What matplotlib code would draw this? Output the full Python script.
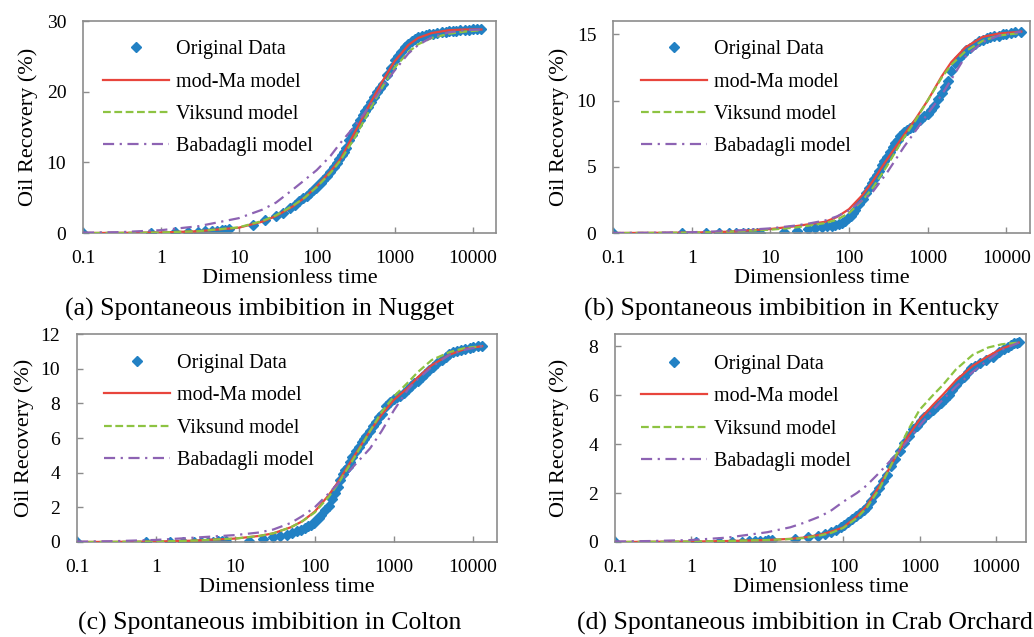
import numpy as np
import matplotlib
matplotlib.use("Agg")
import matplotlib.pyplot as plt
from matplotlib.ticker import NullLocator

plt.rcParams['font.family'] = ['Liberation Serif', 'DejaVu Serif']

# ---- data ----
# original data, panels (a)-(c) share the same time samples
t_obs = [0.1, 0.75, 1.5, 2.2, 3.0, 3.7, 4.5, 5.2, 6.0, 6.7, 7.5, 15, 22, 30, 37, 45, 52, 60, 67, 75,
         82, 90, 97, 105, 112, 120, 135, 150, 165, 180, 195, 210, 225, 240, 260, 280, 300, 330, 360, 390,
         420, 450, 500, 550, 600, 650, 700, 800, 900, 1000, 1100, 1200, 1350, 1500, 1650, 1800, 2000, 2250, 2500, 2800,
         3100, 3500, 4000, 4500, 5000, 5600, 6200, 7000, 8000, 9000, 10000, 11500, 13000]

nugget_obs = [0, 0.05, 0.1, 0.15, 0.2, 0.25, 0.3, 0.35, 0.4, 0.45, 0.55, 1.2, 1.8, 2.4, 2.9, 3.5, 4.0, 4.5, 4.9, 5.3,
              5.7, 6.1, 6.4, 6.8, 7.1, 7.5, 8.1, 8.7, 9.3, 9.9, 10.5, 11.0, 11.5, 12.0, 13.2, 13.9, 14.5, 15.3, 16.0, 16.7,
              17.3, 17.8, 18.6, 19.3, 19.9, 20.5, 21.1, 22.4, 23.3, 24.5, 25.1, 25.6, 26.3, 26.8, 27.1, 27.4, 27.7, 27.9, 28.0, 28.1,
              28.2, 28.3, 28.4, 28.5, 28.55, 28.6, 28.65, 28.7, 28.7, 28.75, 28.8, 28.8, 28.8]

kentucky_obs = [0, 0, 0, 0, 0, 0, 0, 0, 0.01, 0.02, 0.03, 0.1, 0.17, 0.28, 0.35, 0.45, 0.5, 0.55, 0.62, 0.68,
                0.75, 0.9, 1.1, 1.3, 1.5, 1.7, 2.2, 2.6, 3.0, 3.4, 3.8, 4.1, 4.4, 4.7, 5.1, 5.4, 5.7, 6.1, 6.5, 6.8,
                7.0, 7.3, 7.6, 7.8, 7.9, 8.0, 8.2, 8.5, 8.8, 9.0, 9.3, 9.6, 10.1, 10.6, 11.0, 11.5, 12.2, 12.8, 13.2, 13.5,
                13.8, 14.0, 14.3, 14.5, 14.6, 14.7, 14.8, 14.85, 14.9, 15.0, 15.05, 15.1, 15.15]

colton_obs = [0, 0, 0, 0, 0, 0.01, 0.01, 0.02, 0.03, 0.04, 0.05, 0.08, 0.16, 0.26, 0.34, 0.43, 0.52, 0.62, 0.72, 0.82,
              0.92, 1.0, 1.1, 1.25, 1.4, 1.55, 1.85, 2.1, 2.5, 2.85, 3.2, 3.6, 3.95, 4.15, 4.35, 4.6, 4.9, 5.25, 5.5, 5.75,
              5.95, 6.1, 6.4, 6.7, 6.95, 7.2, 7.4, 7.85, 8.1, 8.25, 8.35, 8.45, 8.6, 8.8, 9.0, 9.15, 9.3, 9.5, 9.7, 9.9,
              10.1, 10.3, 10.5, 10.7, 10.85, 10.95, 11.0, 11.1, 11.15, 11.2, 11.25, 11.3, 11.3]

t_obs_d = [0.1, 1.15, 2.3, 3.45, 4.6, 5.75, 6.9, 8.0, 9.2, 10.3, 11.5, 23, 34, 46, 57, 69, 80, 92, 103, 115,
           130, 145, 165, 185, 205, 230, 260, 290, 330, 370, 420, 480, 550, 630, 720, 820, 920, 1040, 1150, 1300,
           1500, 1700, 1900, 2150, 2400, 2700, 3000, 3400, 3800, 4300, 4800, 5400, 6200, 7500, 9200, 11200, 13000, 14500, 16000, 17500,
           19000, 20000]
crab_obs = [0, 0, 0, 0.01, 0.02, 0.03, 0.04, 0.05, 0.06, 0.07, 0.08, 0.14, 0.19, 0.25, 0.33, 0.41, 0.5, 0.6, 0.7, 0.8,
            0.92, 1.05, 1.18, 1.3, 1.45, 1.66, 1.95, 2.2, 2.5, 2.75, 3.1, 3.4, 3.7, 4.03, 4.35, 4.6, 4.75, 4.95, 5.1, 5.25,
            5.4, 5.55, 5.7, 5.85, 6.0, 6.2, 6.4, 6.6, 6.75, 6.95, 7.1, 7.2, 7.3, 7.43, 7.57, 7.77, 7.9, 7.98, 8.05, 8.12,
            8.15, 8.17]

# model curves
t_mod = [0.1, 0.3, 1, 3, 10, 20, 30, 50, 70, 100, 150, 200, 300, 400, 500, 700, 1000, 1500, 2000, 3000, 5000, 8000, 13000]
nugget_ma = [0, 0.02, 0.08, 0.25, 0.75, 1.6, 2.4, 3.8, 5.0, 6.6, 8.7, 10.4, 14.0, 16.6, 18.6, 21.5, 24.3, 26.6, 27.6, 28.3, 28.7, 28.8, 28.8]
nugget_vik = [0, 0.02, 0.08, 0.25, 0.8, 1.7, 2.5, 3.9, 5.0, 6.5, 8.5, 10.2, 13.3, 15.8, 17.8, 20.7, 23.4, 25.6, 26.7, 27.6, 28.2, 28.5, 28.7]
nugget_bab = [0.05, 0.12, 0.4, 0.95, 2.1, 3.3, 4.3, 6.2, 7.5, 8.9, 10.9, 12.7, 15.0, 16.8, 18.3, 20.7, 23.0, 25.4, 26.6, 27.7, 28.4, 28.7, 28.8]

t_mod_b = [0.1, 0.3, 1, 3, 10, 20, 30, 50, 70, 100, 150, 200, 300, 500, 700, 1000, 1500, 2000, 3000, 5000, 8000, 15500]
kentucky_ma = [0, 0.01, 0.03, 0.1, 0.3, 0.5, 0.65, 0.85, 1.2, 1.8, 2.9, 3.9, 5.5, 7.4, 8.6, 10.0, 11.8, 12.9, 14.0, 14.8, 15.05, 15.2]
kentucky_vik = [0, 0.01, 0.03, 0.1, 0.25, 0.4, 0.55, 0.75, 1.0, 1.5, 2.5, 3.4, 5.0, 7.2, 8.5, 10.0, 11.7, 12.7, 13.7, 14.5, 14.9, 15.1]
kentucky_bab = [0, 0.02, 0.06, 0.15, 0.35, 0.55, 0.7, 0.95, 1.25, 1.7, 2.5, 3.1, 4.5, 6.5, 7.7, 9.0, 10.4, 11.6, 13.3, 14.4, 14.9, 15.2]

t_mod_c = [0.1, 0.3, 1, 3, 10, 20, 30, 50, 70, 100, 150, 200, 300, 500, 700, 1000, 1500, 2000, 3000, 5000, 8000, 13000]
colton_ma = [0, 0.01, 0.03, 0.08, 0.2, 0.35, 0.5, 0.85, 1.2, 1.75, 2.7, 3.5, 4.8, 6.4, 7.35, 8.2, 8.9, 9.5, 10.2, 10.8, 11.15, 11.3]
colton_vik = [0, 0.01, 0.03, 0.08, 0.2, 0.35, 0.5, 0.85, 1.2, 1.7, 2.6, 3.4, 4.7, 6.4, 7.5, 8.4, 9.2, 9.8, 10.5, 10.95, 11.2, 11.3]
colton_bab = [0.02, 0.05, 0.12, 0.25, 0.4, 0.55, 0.72, 1.1, 1.5, 2.0, 2.8, 3.4, 4.3, 5.4, 6.4, 7.6, 8.8, 9.4, 10.1, 10.8, 11.1, 11.3]

t_mod_d = [0.1, 0.3, 1, 3, 10, 20, 30, 50, 70, 100, 150, 200, 300, 500, 700, 1000, 1500, 2000, 3000, 5000, 8000, 12000, 20000]
crab_ma = [0, 0.01, 0.02, 0.04, 0.08, 0.13, 0.18, 0.3, 0.43, 0.6, 1.05, 1.45, 2.3, 3.55, 4.3, 5.0, 5.6, 6.0, 6.6, 7.2, 7.6, 7.9, 8.15]
crab_vik = [0, 0.01, 0.02, 0.04, 0.08, 0.12, 0.16, 0.27, 0.38, 0.58, 0.98, 1.38, 2.2, 3.6, 4.55, 5.4, 6.0, 6.4, 7.05, 7.65, 7.95, 8.08, 8.15]
crab_bab = [0.02, 0.04, 0.08, 0.18, 0.4, 0.6, 0.78, 1.05, 1.3, 1.65, 2.0, 2.3, 2.85, 3.6, 4.15, 4.75, 5.4, 5.8, 6.35, 6.95, 7.45, 7.85, 8.15]

captions = ["(a) Spontaneous imbibition in Nugget", "(b) Spontaneous imbibition in Kentucky",
            "(c) Spontaneous imbibition in Colton", "(d) Spontaneous imbibition in Crab Orchard"]
xticks = [0.1, 1, 10, 100, 1000, 10000]
xtick_labels = ["0.1", "1", "10", "100", "1000", "10000"]

blue = '#2281C4'
red = '#E8453C'
green = '#8DC342'
purple = '#8D63B3'
frame = '#8C8C8C'

W, H = 1034, 637
fig = plt.figure(figsize=(W / 100, H / 100), dpi=100)


def box(l, t, r, b):
    return [l / W, 1 - b / H, (r - l) / W, (b - t) / H]


panels = [
    dict(rect=box(83, 21, 496, 233), xmax=20000, ymax=30, yticks=[0, 10, 20, 30],
         t=t_obs, y=nugget_obs, tm=t_mod, ma=nugget_ma, vik=nugget_vik, bab=nugget_bab,
         lab=-0.109, leg=(0.048, 0.91), cap=(260, 309)),
    dict(rect=box(613, 21, 1030, 233), xmax=20000, ymax=16, yticks=[0, 5, 10, 15],
         t=t_obs + [15500], y=kentucky_obs + [15.2], tm=t_mod_b, ma=kentucky_ma, vik=kentucky_vik, bab=kentucky_bab,
         lab=-0.105, leg=(0.067, 0.91), cap=(791, 309)),
    dict(rect=box(77, 334, 497, 542), xmax=20000, ymax=12, yticks=[0, 2, 4, 6, 8, 10, 12],
         t=t_obs, y=colton_obs, tm=t_mod_c, ma=colton_ma, vik=colton_vik, bab=colton_bab,
         lab=-0.102, leg=(0.064, 0.905), cap=(270, 623)),
    dict(rect=box(615, 334, 1026, 542), xmax=25000, ymax=8.5, yticks=[0, 2, 4, 6, 8],
         t=t_obs_d, y=crab_obs, tm=t_mod_d, ma=crab_ma, vik=crab_vik, bab=crab_bab,
         lab=-0.112, leg=(0.063, 0.9), cap=(805, 623)),
]

for p, cap in zip(panels, captions):
    ax = fig.add_axes(p['rect'])
    h0, = ax.plot(p['t'], p['y'], linestyle='none', marker='D', markersize=5,
                  color=blue, label='Original Data', zorder=2)
    h1, = ax.plot(p['tm'], p['ma'], color=red, lw=1.6, label='mod-Ma model', zorder=3)
    h2, = ax.plot(p['tm'], p['vik'], color=green, lw=1.6, dashes=(3.5, 1.6), label='Viksund model', zorder=3)
    h3, = ax.plot(p['tm'], p['bab'], color=purple, lw=1.6, dashes=(5, 2.5, 1, 2.5), label='Babadagli model', zorder=3)

    ax.set_xscale('log')
    ax.set_xlim(0.1, p['xmax'])
    ax.set_ylim(0, p['ymax'])
    ax.set_xticks(xticks, xtick_labels)
    ax.xaxis.set_minor_locator(NullLocator())
    ax.set_yticks(p['yticks'])
    ax.tick_params(axis='both', direction='in', length=4, width=1, color=frame, labelsize=14)
    ax.tick_params(axis='x', pad=12.5)
    ax.tick_params(axis='y', pad=12)
    for s in ax.spines.values():
        s.set_color(frame)
        s.set_linewidth(1.2)

    ax.set_xlabel('Dimensionless time', fontsize=16, labelpad=1)
    ax.set_ylabel('Oil Recovery (%)', fontsize=16)
    ax.yaxis.set_label_coords(p['lab'], 0.5)

    ax.legend(handles=[h0, h1, h2, h3], loc='upper left', bbox_to_anchor=p['leg'],
              frameon=False, fontsize=14.5, handlelength=3.3, handletextpad=0.35,
              labelspacing=0.66, borderpad=0, borderaxespad=0, numpoints=1)

    fig.text(p['cap'][0] / W, 1 - p['cap'][1] / H, cap, fontsize=18.5, ha='center', va='center')

fig.savefig('out.png', dpi=100)
